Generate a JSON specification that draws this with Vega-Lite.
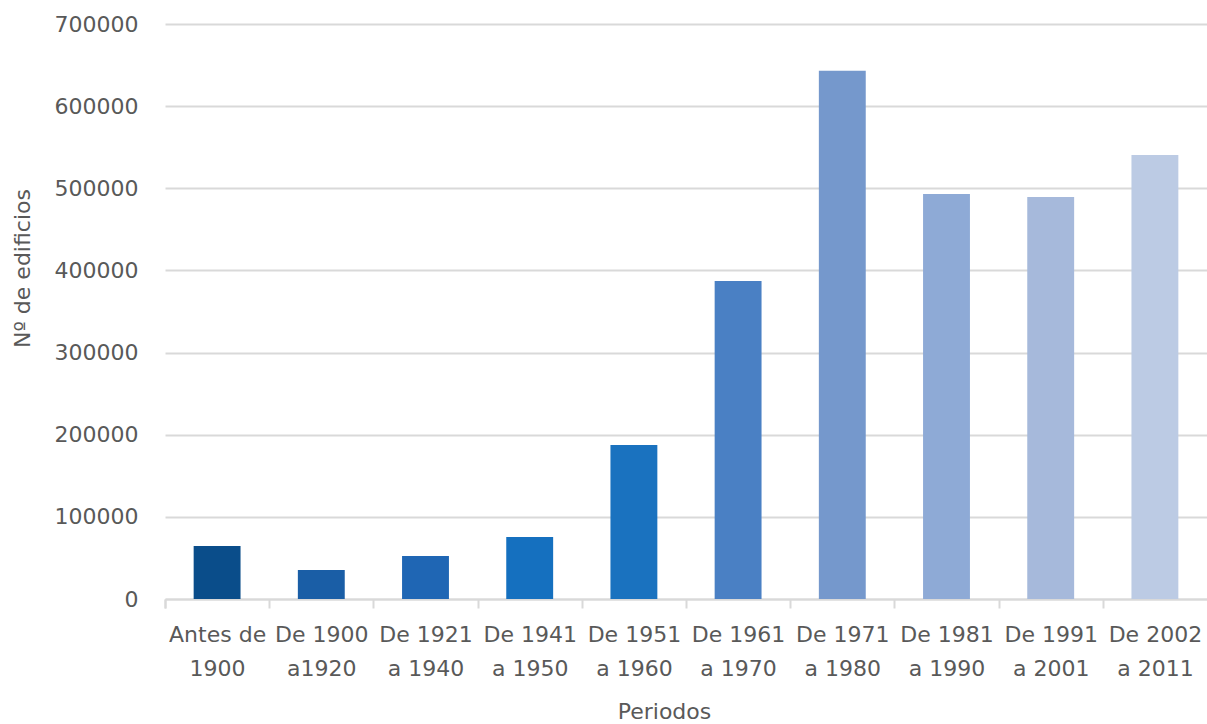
{
  "$schema": "https://vega.github.io/schema/vega-lite/v6.json",
  "width": 1042,
  "height": 575,
  "autosize": "none",
  "padding": {"left": 165, "top": 24, "right": 0, "bottom": 125},
  "background": "white",
  "data": {
    "values": [
      {"periodo": "Antes de|1900", "edificios": 64500},
      {"periodo": "De 1900|a1920", "edificios": 35300},
      {"periodo": "De 1921|a 1940", "edificios": 52300},
      {"periodo": "De 1941|a 1950", "edificios": 75500},
      {"periodo": "De 1951|a 1960", "edificios": 187500},
      {"periodo": "De 1961|a 1970", "edificios": 387000},
      {"periodo": "De 1971|a 1980", "edificios": 643000},
      {"periodo": "De 1981|a 1990", "edificios": 493000},
      {"periodo": "De 1991|a 2001", "edificios": 489500},
      {"periodo": "De 2002|a 2011", "edificios": 540500}
    ]
  },
  "config": {
    "view": {"stroke": null},
    "font": "DejaVu Sans",
    "axis": {
      "labelFont": "DejaVu Sans",
      "titleFont": "DejaVu Sans",
      "labelFontSize": 22,
      "titleFontSize": 22,
      "labelColor": "#595959",
      "titleColor": "#595959",
      "titleFontWeight": "normal"
    }
  },
  "mark": {"type": "bar"},
  "encoding": {
    "x": {
      "field": "periodo",
      "type": "nominal",
      "sort": null,
      "scale": {"paddingInner": 0.55, "paddingOuter": 0.275},
      "axis": {
        "title": "Periodos",
        "titleX": 499,
        "labelAngle": 0,
        "labelExpr": "split(datum.label, '|')",
        "labelLineHeight": 34,
        "labelPadding": 16,
        "labelOffset": 28.65,
        "bandPosition": 0,
        "tickExtra": true,
        "tickOffset": -28.65,
        "tickSize": 9,
        "tickColor": "#d9d9d9",
        "tickWidth": 2,
        "domainColor": "#d9d9d9",
        "domainWidth": 2,
        "titlePadding": 22,
        "labelLimit": 200
      }
    },
    "y": {
      "field": "edificios",
      "type": "quantitative",
      "scale": {"domain": [0, 700000]},
      "axis": {
        "title": "Nº de edificios",
        "titleY": 244,
        "values": [0, 100000, 200000, 300000, 400000, 500000, 600000, 700000],
        "format": "d",
        "domain": false,
        "ticks": false,
        "labelPadding": 27,
        "gridColor": "#d9d9d9",
        "gridWidth": 2,
        "titlePadding": 20
      }
    },
    "color": {
      "field": "periodo",
      "type": "nominal",
      "sort": null,
      "legend": null,
      "scale": {
        "range": ["#0a4d8a", "#1a5ea6", "#1f66b4", "#1570bf", "#1a72bf", "#4a80c4", "#7598cc", "#8eaad6", "#a6b9db", "#bccbe4"]
      }
    }
  }
}
